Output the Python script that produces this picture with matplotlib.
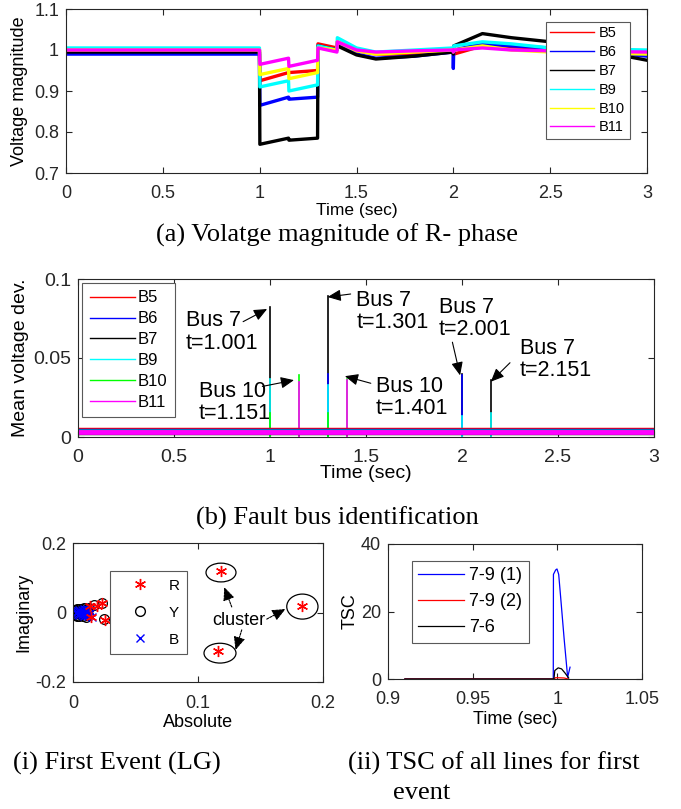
import matplotlib.pyplot as plt
from matplotlib.lines import Line2D
from matplotlib.patches import Ellipse

plt.rcParams['font.family'] = 'Liberation Sans'

W, H = 681, 809

# ---- (a) R-phase voltage magnitude at each bus ----
buses = ['B5', 'B6', 'B7', 'B9', 'B10', 'B11']
t_a = [0.0, 0.999, 1.001, 1.149, 1.151, 1.299, 1.301, 1.399, 1.401, 1.5, 1.6,
       1.8, 1.999, 2.0, 2.002, 2.15, 2.3, 2.5, 3.0]
v_b5 = [1.0, 1.0, 0.925, 0.945, 0.945, 0.95, 1.015, 1.005, 1.02, 0.998, 0.99,
        0.99, 0.995, 0.99, 0.99, 1.01, 1.005, 1.0, 0.99]
v_b6 = [0.99, 0.99, 0.865, 0.885, 0.88, 0.885, 1.01, 1.0, 1.015, 0.99, 0.98,
        0.985, 0.995, 0.955, 1.0, 1.015, 1.01, 1.005, 0.985]
v_b7 = [0.995, 0.995, 0.77, 0.785, 0.78, 0.785, 1.01, 1.0, 1.01, 0.988, 0.978,
        0.985, 0.995, 0.99, 1.01, 1.04, 1.03, 1.02, 0.975]
v_b9 = [1.005, 1.005, 0.91, 0.925, 0.9, 0.915, 1.01, 1.0, 1.03, 1.005, 0.995,
        1.0, 1.005, 1.0, 1.01, 1.02, 1.015, 1.005, 1.0]
v_b10 = [1.0, 1.0, 0.94, 0.955, 0.93, 0.945, 1.005, 1.0, 1.02, 0.998, 0.99,
         0.995, 1.0, 0.995, 1.0, 1.01, 1.0, 0.995, 0.99]
v_b11 = [1.0, 1.0, 0.965, 0.98, 0.96, 0.975, 1.005, 0.995, 1.02, 1.0, 0.995,
         0.998, 1.0, 0.995, 1.0, 1.005, 1.0, 0.998, 0.995]
colors_a = ['red', 'blue', 'black', 'cyan', 'yellow', 'magenta']

# ---- (b) mean voltage deviation ----
colors_b = ['red', 'blue', 'black', 'cyan', '#00ff00', 'magenta']
base_dev = [0.005, 0.0045, 0.0025, 0.004, 0.0035, 0.0032]
spike_t = [[], [1.301, 2.001], [1.001, 1.301, 2.001, 2.151],
           [1.001, 1.301, 2.001, 2.151], [1.001, 1.151, 1.301, 1.401],
           [1.151, 1.401]]
spike_h = [[], [0.040, 0.039], [0.082, 0.089, 0.040, 0.036],
           [0.037, 0.033, 0.013, 0.015], [0.015, 0.039, 0.015, 0.037],
           [0.035, 0.036]]
notes = ['Bus 7\nt=1.001', 'Bus 10\nt=1.151', 'Bus 7\nt=1.301',
         'Bus 10\nt=1.401', 'Bus 7\nt=2.001', 'Bus 7\nt=2.151']
note_xy = [(0.56, 0.0665), (0.63, 0.0218), (1.45, 0.0795),
           (1.55, 0.025), (1.88, 0.075), (2.3, 0.049)]
arrow_tail = [(0.86, 0.073), (0.96, 0.032), (1.42, 0.0905),
              (1.525, 0.034), (1.95, 0.06), (2.25, 0.047)]
arrow_head = [(0.985, 0.081), (1.125, 0.036), (1.30, 0.0886),
              (1.39, 0.0385), (1.99, 0.039), (2.15, 0.035)]

# ---- (i) first event (LG) ----
r_abs = [0.0136, 0.019, 0.023, 0.014, 0.0256, 0.118, 0.116, 0.183]
r_imag = [0.0187, 0.018, 0.028, -0.012, -0.0216, 0.120, -0.111, 0.0196]
y_abs = [0.0, 0.0, 0.001, 0.001, 0.002, 0.002, 0.003, 0.003, 0.004, 0.005, 0.005,
         0.006, 0.007, 0.008, 0.009, 0.010, 0.011, 0.012, 0.013, 0.017, 0.023, 0.025]
y_imag = [0.003, -0.003, 0.006, -0.005, 0.008, -0.007, 0.009, -0.009, 0.0, 0.010,
          -0.010, 0.0, 0.011, -0.011, 0.012, -0.012, 0.010, -0.008, 0.012,
          0.021, 0.027, -0.019]
b_abs = [0.002, 0.003, 0.004, 0.004, 0.005, 0.005, 0.006, 0.006, 0.007, 0.007,
         0.008, 0.008, 0.009, 0.009, 0.010, 0.010, 0.011, 0.011, 0.012, 0.012,
         0.013, 0.013, 0.014, 0.015]
b_imag = [0.0, 0.002, 0.005, -0.004, 0.007, -0.006, 0.002, -0.002, 0.008, -0.008,
          0.004, -0.004, 0.009, -0.009, 0.0, 0.006, -0.006, 0.010, 0.003, -0.010,
          0.008, -0.005, 0.002, -0.012]
clusters = [(0.1184, 0.115, 0.024, 0.054), (0.1176, -0.117, 0.0256, 0.057),
            (0.1835, 0.017, 0.025, 0.072)]

# ---- (ii) TSC of lines ----
t_blue = [0.91, 0.9976, 0.9977, 0.999, 0.9998, 1.0008, 1.002, 1.004, 1.0061, 1.0075]
tsc_blue = [0, 0, 31.0, 32.3, 32.6, 31.0, 24.0, 12.0, 0.5, 3.5]
t_red = [0.91, 0.998, 0.999, 1.004, 1.0065]
tsc_red = [0, 0, 0.4, 0.3, 0.0]
t_black = [0.91, 0.998, 0.9985, 1.0005, 1.0025, 1.0045, 1.0067]
tsc_black = [0, 0, 2.5, 3.3, 3.0, 1.8, 0.3]


def box(l, t, r, b):
    return [l / W, 1 - b / H, (r - l) / W, (b - t) / H]


def style(ax, size=13):
    ax.tick_params(direction='in', top=True, right=True, length=4, width=0.8,
                   labelsize=size, color='0.15', labelcolor='0.15')
    ax.tick_params(axis='x', pad=9)
    ax.tick_params(axis='y', pad=5)
    for s in ax.spines.values():
        s.set_linewidth(0.8)
        s.set_color('0.15')


def legend_at(ax, handles, labels, l, t, **kw):
    leg = ax.legend(handles, labels, loc='upper left',
                    bbox_to_anchor=(l / W, 1 - t / H), bbox_transform=fig.transFigure,
                    borderaxespad=0, fancybox=False, framealpha=1, edgecolor='0.35', **kw)
    leg.get_frame().set_linewidth(0.8)
    return leg


fig = plt.figure(figsize=(W / 100, H / 100), dpi=100)

# (a)
ax1 = fig.add_axes(box(66, 9, 647, 173))
for vals, c in zip([v_b5, v_b6, v_b7, v_b9, v_b10, v_b11], colors_a):
    ax1.plot(t_a, vals, color=c, lw=2.4)
ax1.set_xlim(0, 3)
ax1.set_ylim(0.7, 1.1)
ax1.set_xticks([0, 0.5, 1, 1.5, 2, 2.5, 3], ['0', '0.5', '1', '1.5', '2', '2.5', '3'])
ax1.set_yticks([0.7, 0.8, 0.9, 1, 1.1], ['0.7', '0.8', '0.9', '1', '1.1'])
ax1.set_xlabel('Time (sec)', fontsize=12.5, labelpad=0)
ax1.set_ylabel('Voltage magnitude', fontsize=13, labelpad=4)
style(ax1)
legend_at(ax1, [Line2D([], [], color=c, lw=1) for c in colors_a], buses, 546, 22,
          fontsize=10.5, handlelength=3.0, handletextpad=0.35, borderpad=0.3,
          labelspacing=0.33)

# (b)
ax2 = fig.add_axes(box(78, 279, 654, 437))
spikes = []
for ts, hs, c in zip(spike_t, spike_h, colors_b):
    spikes += [(h, t, c) for t, h in zip(ts, hs)]
for h, t, c in sorted(spikes, reverse=True):
    ax2.plot([t, t], [0, h], color=c, lw=1.2)
for base, c in zip(base_dev, colors_b):
    ax2.plot([0, 3], [base, base], color=c, lw=3.5 if c == 'magenta' else 2.5)
for txt, xy, tail, head in zip(notes, note_xy, arrow_tail, arrow_head):
    ax2.text(xy[0], xy[1], txt, ha='left', va='center', fontsize=15.5, linespacing=1.1)
    ax2.annotate('', xy=head, xytext=tail,
                 arrowprops=dict(arrowstyle='-|>,head_length=0.8,head_width=0.35',
                                 color='black', lw=0.8, shrinkA=0, shrinkB=0))
ax2.set_xlim(0, 3)
ax2.set_ylim(0, 0.1)
ax2.set_xticks([0, 0.5, 1, 1.5, 2, 2.5, 3], ['0', '0.5', '1', '1.5', '2', '2.5', '3'])
ax2.set_yticks([0, 0.05, 0.1], ['0', '0.05', '0.1'])
ax2.set_xlabel('Time (sec)', fontsize=14, labelpad=-1)
ax2.set_ylabel('Mean voltage dev.', fontsize=14, labelpad=3)
style(ax2, size=14)
legend_at(ax2, [Line2D([], [], color=c, lw=1) for c in colors_b], buses, 82, 283,
          fontsize=12, handlelength=2.7, handletextpad=0.2, borderpad=0.45,
          labelspacing=0.35)

# (i)
ax3 = fig.add_axes(box(73, 543, 323, 682))
ax3.plot(y_abs, y_imag, 'o', color='black', mfc='none', ms=7, mew=0.9)
ax3.plot(b_abs, b_imag, 'x', color='blue', ms=6, mew=1)
ax3.plot(r_abs, r_imag, marker=(6, 2, 0), ls='none', color='red', ms=8, mew=1)
for cx, cy, w, h in clusters:
    ax3.add_patch(Ellipse((cx, cy), w, h, fill=False, ec='black', lw=0.9))
ax3.text(0.133, -0.0216, 'cluster', ha='center', va='center', fontsize=13)
for tail, head in [((0.127, 0.016), (0.121, 0.073)),
                   ((0.155, -0.019), (0.17, 0.01)),
                   ((0.135, -0.05), (0.13, -0.108))]:
    ax3.annotate('', xy=head, xytext=tail,
                 arrowprops=dict(arrowstyle='-|>,head_length=0.8,head_width=0.35',
                                 color='black', lw=0.8, ls=(0, (2, 1)),
                                 shrinkA=0, shrinkB=0))
ax3.set_xlim(0, 0.2)
ax3.set_ylim(-0.2, 0.2)
ax3.set_xticks([0, 0.1, 0.2], ['0', '0.1', '0.2'])
ax3.set_yticks([-0.2, 0, 0.2], ['-0.2', '0', '0.2'])
ax3.set_xlabel('Absolute', fontsize=13, labelpad=2)
ax3.set_ylabel('Imaginary', fontsize=13, labelpad=2)
style(ax3)
legend_at(ax3,
          [Line2D([], [], ls='none', marker=(6, 2, 0), color='red', ms=8, mew=1),
           Line2D([], [], ls='none', marker='o', color='black', mfc='none', ms=7),
           Line2D([], [], ls='none', marker='x', color='blue', ms=6)],
          ['R', 'Y', 'B'], 110, 571,
          fontsize=11, handlelength=2.9, handletextpad=0.45, borderpad=0.5,
          labelspacing=0.85)

# (ii)
ax4 = fig.add_axes(box(388, 544, 642, 679))
ax4.plot(t_blue, tsc_blue, color='blue', lw=0.9, label='7-9 (1)')
ax4.plot(t_red, tsc_red, color='red', lw=0.9, label='7-9 (2)')
ax4.plot(t_black, tsc_black, color='black', lw=0.9, label='7-6')
ax4.set_xlim(0.9, 1.05)
ax4.set_ylim(0, 40)
ax4.set_xticks([0.9, 0.95, 1, 1.05], ['0.9', '0.95', '1', '1.05'])
ax4.set_yticks([0, 20, 40], ['0', '20', '40'])
ax4.set_xlabel('Time (sec)', fontsize=13, labelpad=2)
ax4.set_ylabel('TSC', fontsize=13, labelpad=2)
style(ax4)
h4, l4 = ax4.get_legend_handles_labels()
legend_at(ax4, h4, l4, 412, 561, fontsize=13, handlelength=2.55,
          handletextpad=0.28, borderpad=0.35, labelspacing=0.5)

# captions
cap = dict(family='Liberation Serif', size=19, va='center')
fig.text(337 / W, 1 - 235 / H, '(a) Volatge magnitude of R- phase', ha='center', **cap)
fig.text(337 / W, 1 - 518 / H, '(b) Fault bus identification', ha='center', **cap)
fig.text(13 / W, 1 - 763 / H, '(i) First Event (LG)', ha='left', **cap)
fig.text(348 / W, 1 - 763 / H, '(ii) TSC of all lines for first', ha='left', **cap)
fig.text(393 / W, 1 - 793 / H, 'event', ha='left', **cap)

fig.savefig('out.png', dpi=100)
